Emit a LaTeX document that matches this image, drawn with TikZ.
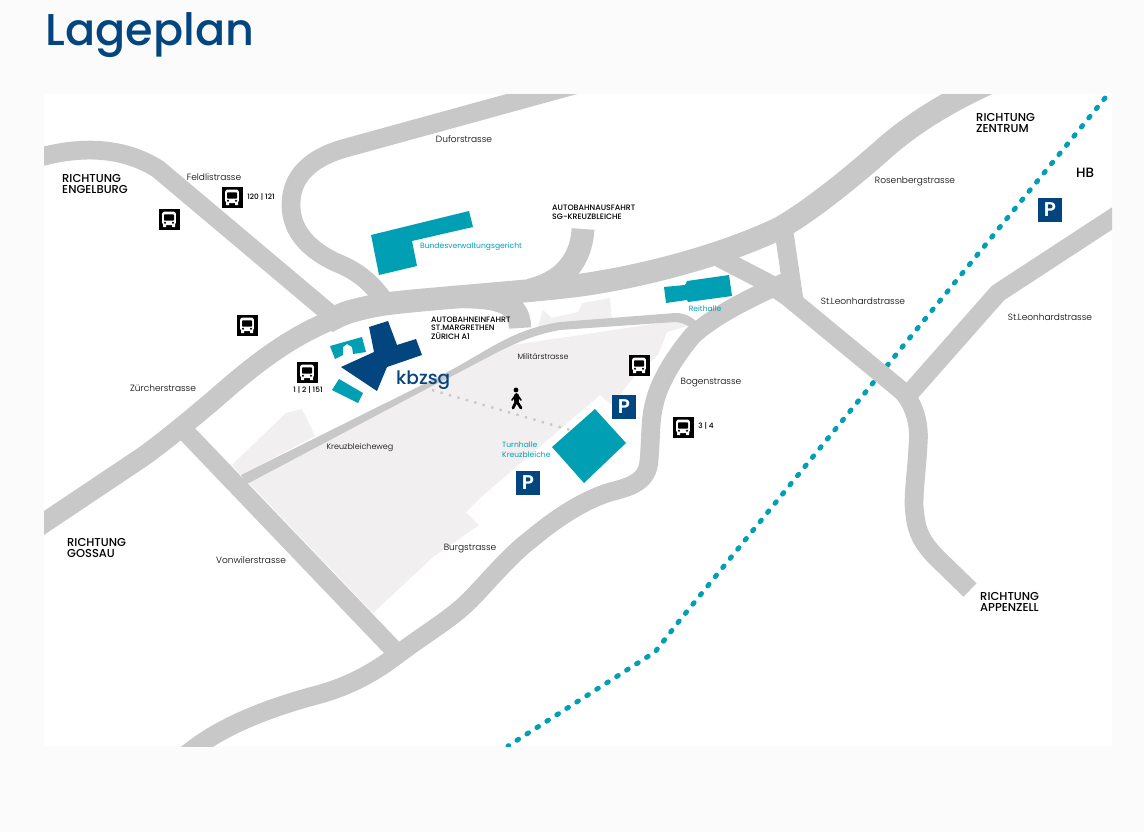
\documentclass[tikz,border=0pt]{standalone}
\usepackage{fontspec}
\setmainfont[UprightFont=* Light]{Poppins}
\newfontfamily\regfont{Poppins}
\newfontfamily\medfont[UprightFont=* Medium]{Poppins}
\newfontfamily\semifont[UprightFont=* SemiBold]{Poppins}
\definecolor{kbzblue}{HTML}{03467F}
\definecolor{kbzteal}{HTML}{009FB4}
\definecolor{roadgray}{HTML}{C8C8C8}
\definecolor{campusgray}{HTML}{F1EFF0}
\definecolor{pagegray}{HTML}{FBFBFB}
\tikzset{
  road/.style={draw=roadgray,line width=16pt,line join=round},
  wideroad/.style={draw=roadgray,line width=19.5pt,line join=round},
  rail/.style={draw=kbzteal,line width=4.2pt,line cap=round,dash pattern=on 1.7pt off 8.4pt},
  street/.style={font=\fontsize{7.7}{9}\selectfont,text=black},
  place/.style={font=\medfont\fontsize{9.8}{9.8}\selectfont,align=left,anchor=west,text=black},
  ramp/.style={font=\medfont\fontsize{6.7}{7.4}\selectfont,align=left,anchor=west,text=black},
  hall/.style={font=\regfont\fontsize{6.5}{8.4}\selectfont,text=kbzteal,align=left},
  busnum/.style={font=\medfont\fontsize{6.3}{7}\selectfont,text=black},
  parkbox/.style={fill=kbzblue,text=white,minimum size=20.4pt,font=\semifont\fontsize{17}{17}\selectfont},
  busicon/.pic={
    \fill[black] (-10.5,-10.5) rectangle (10.5,10.5);
    \fill[white,rounded corners=2pt] (-6.8,-6) rectangle (6.8,7.5);
    \fill[white] (-6,-8) rectangle (-3,-5) (3,-8) rectangle (6,-5);
    \fill[black,rounded corners=0.6pt] (-5,-1.5) rectangle (5,4.6);
    \fill[black] (-4,-3.8) circle (1.1) (4,-3.8) circle (1.1);
  }
}
\begin{document}
\begin{tikzpicture}[x=0.03cm,y=0.03cm]
\tikzstyle{every node}+=[inner sep=0pt]
\useasboundingbox (0,0) rectangle (1144,-832);
\fill [pagegray] (0,0) rectangle (1144,-832);
\fill [white] (44,-94) rectangle (1112,-746);
\node (title) [anchor=base west,text=kbzblue,font=\medfont\fontsize{38}{40}\selectfont] at (45.5,-45) {Lageplan};
\begin{scope}
\clip (44,-94) rectangle (1112,-746);
% campus
\fill [campusgray] (248,-482) -- (400,-397) -- (500,-347) -- (680,-320) -- (688,-326) -- (667,-332) -- (658,-355) -- (637,-373) -- (612,-405) -- (600,-395) -- (480,-498) -- (466,-512) -- (479,-525) -- (433,-557) -- (373,-613) -- cycle;
\fill [campusgray] (232,-465) -- (286,-413) -- (302,-409) -- (315,-436) -- (241,-475) -- cycle;
\fill [campusgray] (537,-330) -- (543,-310) -- (552,-318) -- (578,-312) -- (583,-303) -- (610,-298) -- (612,-320) -- cycle;
% railway, under the roads
\draw [rail] (1105,-98) -- (680,-620) -- (655,-652) -- (508,-746);
% roads
\draw [road,line width=17pt] (20,-539) -- (144,-456) .. controls (170,-437) and (190,-420) .. (215,-399) .. controls (250,-368) and (285,-340) .. (327,-322) .. controls (342,-316) and (352,-312) .. (365,-309);
\draw [wideroad] (327,-322) .. controls (335,-318) and (340,-315) .. (345,-313) .. controls (358,-309) and (372,-306) .. (385,-304) .. controls (430,-298) and (560,-290) .. (600,-282) .. controls (660,-272) and (730,-252) .. (780,-228) .. controls (815,-208) and (860,-170) .. (887,-146) .. controls (915,-122) and (950,-100) .. (1000,-78);
\draw [road] (30,-160) .. controls (75,-146) and (120,-145) .. (158,-169) -- (335,-318);
\draw [road] (600,-78) -- (342,-149) .. controls (300,-162) and (291,-185) .. (291,-205) .. controls (291,-232) and (310,-250) .. (335,-262) .. controls (355,-270) and (370,-280) .. (385,-302);
\draw [wideroad] (583,-229) .. controls (582,-250) and (572,-280) .. (530,-290);
\draw [wideroad,line width=19pt] (450,-297) .. controls (490,-297) and (520,-298) .. (520,-328);
\draw [road] (178,-424) -- (396,-652);
\draw [road] (175,-765) .. controls (200,-740) and (240,-716) .. (313,-696) .. controls (345,-688) and (370,-675) .. (393,-658) .. controls (430,-630) and (450,-620) .. (470,-600) .. controls (485,-585) and (510,-555) .. (530,-540) .. controls (560,-515) and (585,-500) .. (610,-492) .. controls (630,-487) and (648,-482) .. (649,-460) .. controls (651,-440) and (650,-420) .. (654,-405) .. controls (658,-385) and (672,-360) .. (693,-335) .. controls (712,-318) and (740,-302) .. (790,-280);
\draw [road] (712,-254) -- (768,-283) -- (788,-297) -- (902,-391) .. controls (915,-405) and (920,-425) .. (918,-445) .. controls (917,-470) and (912,-500) .. (915,-515) .. controls (917,-535) and (925,-545) .. (935,-556) -- (970,-590);
\draw [road] (783,-225) -- (794,-300);
\draw [road] (908,-395) -- (998,-293) -- (1125,-210);
\fill [roadgray] (241,-475) -- (440,-376) .. controls (490,-350) and (510,-330) .. (560,-322) -- (675,-313) .. controls (685,-313) and (692,-317) .. (697,-322) -- (690,-327) .. controls (685,-324) and (680,-322) .. (675,-322) -- (560,-330) .. controls (515,-338) and (490,-358) .. (430,-387) -- (247,-484) -- cycle;
\end{scope}
% footpath
\draw [roadgray,line width=2pt,dash pattern=on 2pt off 5.5pt] (432,-390) -- (570,-430);
% buildings
\fill [kbzteal] (371,-235) -- (469,-211) -- (473,-227) -- (412,-241) -- (417,-266) -- (379,-275) -- cycle;
\fill [kbzteal] (664,-287) -- (685,-285) -- (687,-281) -- (729,-275) -- (732,-296) -- (688,-302) -- (687,-300) -- (666,-303) -- cycle;
\fill [kbzteal] (595,-409) -- (626,-443) -- (584,-483) -- (552,-447) -- cycle;
\fill [kbzteal] (339,-379) -- (363,-393) -- (358,-403) -- (332,-390) -- cycle;
\fill [kbzteal] (330,-346) -- (362,-337) -- (366,-352) -- (353,-354) -- (352,-347) -- (347,-344) -- (343,-347) -- (343,-355) -- (335,-359) -- cycle;
\fill [kbzblue] (369,-327) -- (388,-321) -- (397,-345) -- (416,-339) -- (422,-355) -- (387,-367) -- (377,-391) -- (341,-367) -- (363,-357) -- (374,-352) -- cycle;
\node (logo) [anchor=base west,text=kbzblue,font=\medfont\fontsize{15.8}{17}\selectfont] at (396,-384) {kbzsg};
% pedestrian
\fill [black] (516,-390) circle (2.4);
\draw [black,line width=3.6pt,line cap=round,line join=round] (516.5,-395.5) -- (516.5,-401);
\draw [black,line width=2.4pt,line cap=round,line join=round] (516.5,-401) -- (513,-408) (516.5,-401) -- (521,-408);
\draw [black,line width=1.4pt,line cap=round] (516.5,-394) -- (521,-400) (516.5,-394) -- (512,-400);
% parking
\node (parkA) [parkbox] at (624,-407) {P};
\node (parkB) [parkbox] at (528,-483) {P};
\node (parkC) [parkbox] at (1050,-210) {P};
% bus stops
\pic at (232,-197) {busicon};
\pic at (169,-219) {busicon};
\pic at (247,-325) {busicon};
\pic at (307,-372) {busicon};
\pic at (639,-365) {busicon};
\pic at (683,-427) {busicon};
\node (busA) [busnum] at (261,-197) {120 | 121};
\node (busB) [busnum] at (308,-390) {1 | 2 | 151};
\node (busC) [busnum] at (706,-426) {3 | 4};
% streets
\node (dufor) [street] at (464,-139) {Duforstrasse};
\node (feldli) [street] at (214,-177) {Feldlistrasse};
\node (rosen) [street] at (915,-181) {Rosenbergstrasse};
\node (leonA) [street] at (863,-301) {St.Leonhardstrasse};
\node (leonB) [street] at (1050,-317) {St.Leonhardstrasse};
\node (militaer) [street,font=\fontsize{6.7}{8}\selectfont] at (543,-357) {Militärstrasse};
\node (bogen) [street] at (711,-383) {Bogenstrasse};
\node (zuercher) [street] at (163,-388) {Zürcherstrasse};
\node (kreuz) [street,font=\fontsize{6.8}{8}\selectfont] at (360,-448) {Kreuzbleicheweg};
\node (vonwil) [street] at (251,-560) {Vonwilerstrasse};
\node (burg) [street] at (470,-549) {Burgstrasse};
% directions
\node (engel) [place] at (62,-184) {RICHTUNG\\ENGELBURG};
\node (zentrum) [place] at (976,-123) {RICHTUNG\\ZENTRUM};
\node (gossau) [place] at (67,-548) {RICHTUNG\\GOSSAU};
\node (appenz) [place] at (980,-602) {RICHTUNG\\APPENZELL};
\node (hb) [place,font=\medfont\fontsize{11.5}{12}\selectfont] at (1076,-173) {HB};
\node (ausfahrt) [ramp] at (552,-212) {AUTOBAHNAUSFAHRT\\SG-KREUZBLEICHE};
\node (einfahrt) [ramp] at (431,-328) {AUTOBAHNEINFAHRT\\ST.MARGRETHEN\\ZÜRICH A1};
% halls
\node (gericht) [hall] at (471,-247) {Bundesverwaltungsgericht};
\node (reit) [hall] at (705,-309) {Reithalle};
\node (turn) [hall,anchor=west] at (502,-450) {Turnhalle\\Kreuzbleiche};
\end{tikzpicture}
\end{document}
